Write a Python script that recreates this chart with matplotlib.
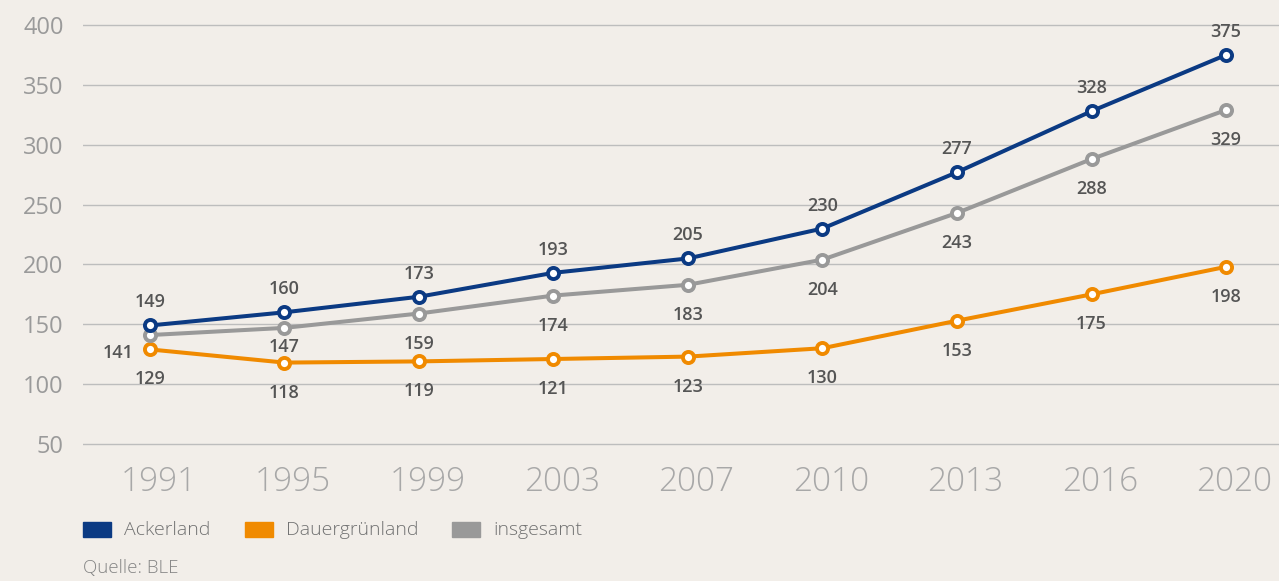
import matplotlib
matplotlib.use("Agg")
import matplotlib.pyplot as plt
import matplotlib.transforms as mtransforms
from matplotlib.patches import Rectangle

years = ["1991", "1995", "1999", "2003", "2007", "2010", "2013", "2016", "2020"]
ackerland = [149, 160, 173, 193, 205, 230, 277, 328, 375]
dauergruenland = [129, 118, 119, 121, 123, 130, 153, 175, 198]
insgesamt = [141, 147, 159, 174, 183, 204, 243, 288, 329]
yticks = [50, 100, 150, 200, 250, 300, 350, 400]

BG = "#f2eee9"
C_ACK = "#0b3a83"
C_DAU = "#f08a00"
C_INS = "#999999"
LBL = "#555555"

plt.rcParams['font.family'] = ['Open Sans', 'DejaVu Sans']

W, H = 1279, 581
fig = plt.figure(figsize=(W / 100, H / 100), dpi=100, facecolor=BG)
ax_bottom_px = 446
ax = fig.add_axes([83 / W, (H - ax_bottom_px) / H, 1 - 83 / W, ax_bottom_px / H])
ax.set_facecolor(BG)

ppx = 59.86 / 50  # pixels per unit
ax.set_ylim(50 - 2 / ppx, 400 + 25 / ppx)
ax.set_xlim(-0.498, 8.394)

x = list(range(len(years)))
for vals, col in [(dauergruenland, C_DAU), (insgesamt, C_INS), (ackerland, C_ACK)]:
    ax.plot(x, vals, color=col, lw=2.9, marker='o', ms=8, mfc='white',
            mec=col, mew=2.8, zorder=3, solid_capstyle='round')

ax.set_yticks(yticks)
ax.set_yticklabels([str(v) for v in yticks])
ax.set_xticks(x)
ax.set_xticklabels(years)
ax.tick_params(axis='y', length=0, pad=14, labelsize=17, labelcolor="#9a9a9a")
ax.tick_params(axis='x', length=0, pad=14, labelsize=24, labelcolor="#a8a8a8")
shift = mtransforms.ScaledTranslation(8.5 / 100, 0, fig.dpi_scale_trans)
for t in ax.get_xticklabels():
    t.set_fontweight('light')
    t.set_transform(t.get_transform() + shift)
for t in ax.get_yticklabels():
    t.set_fontweight('normal')
ax.grid(axis='y', color="#bdbdbd", lw=1.0)
ax.set_axisbelow(True)
for s in ax.spines.values():
    s.set_visible(False)

def lab(xi, v, dx, dy):
    ax.annotate(str(v), (xi, v), xytext=(dx, dy), textcoords='offset pixels',
                ha='center', va='center', fontsize=13, fontweight='semibold',
                color=LBL, zorder=4)

for i, v in enumerate(ackerland):
    lab(i, v, 0, 23)
for i, v in enumerate(dauergruenland):
    lab(i, v, 0, -30)
for i, v in enumerate(insgesamt):
    if i == 0:
        lab(i, v, -32, -18)
    elif i == 1:
        lab(i, v, 0, -19)
    else:
        lab(i, v, 0, -30)

# legend
leg_items = [("Ackerland", C_ACK, 83), ("Dauergrünland", C_DAU, 245), ("insgesamt", C_INS, 452)]
for name, col, xp in leg_items:
    fig.patches.append(Rectangle((xp / W, (H - 537) / H), 28 / W, 15 / H,
                                 transform=fig.transFigure, color=col, figure=fig))
    fig.text((xp + 41) / W, (H - 530) / H, name, fontsize=14, fontweight='light',
             color="#727272", va='center', ha='left')

fig.text(83 / W, (H - 568) / H, "Quelle: BLE", fontsize=13.5, fontweight='light',
         color="#858585", va='center', ha='left')

fig.savefig("out.png", dpi=100, facecolor=BG)
